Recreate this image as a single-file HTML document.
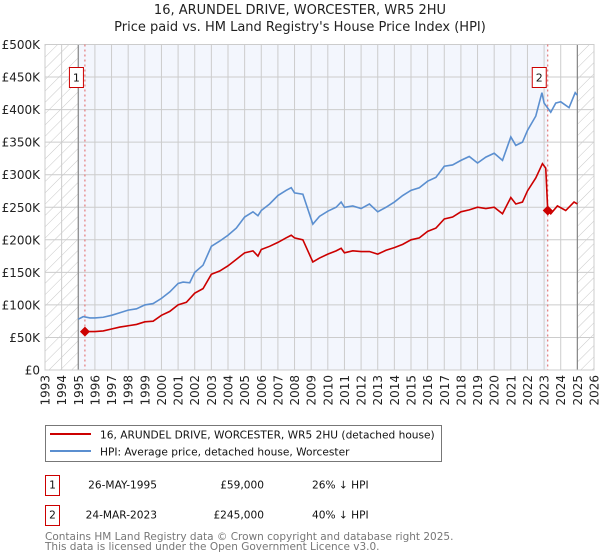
<!DOCTYPE html>
<html><head><meta charset="utf-8"><style>
body{margin:0;background:#fff;}
svg{display:block;font-family:"DejaVu Sans","Liberation Sans",sans-serif;}
</style></head><body>
<svg id="c" width="600" height="560" viewBox="0 0 600 560">
<defs>
<pattern id="hatch" width="8" height="8" patternUnits="userSpaceOnUse" patternTransform="rotate(45)">
<line x1="0" y1="0" x2="0" y2="8" stroke="#c8c8c8" stroke-width="1"/>
</pattern>
</defs>
<text x="300" y="14" text-anchor="middle" font-size="13" fill="#222">16, ARUNDEL DRIVE, WORCESTER, WR5 2HU</text>
<text x="300" y="31" text-anchor="middle" font-size="13" fill="#222">Price paid vs. HM Land Registry's House Price Index (HPI)</text>
<g id="plot"></g>
<g>
<rect x="45.5" y="425.5" width="396" height="36" fill="#fff" stroke="#777"/>
<line x1="50" y1="434" x2="91" y2="434" stroke="#cc0000" stroke-width="2"/>
<text x="100" y="438.5" font-size="10.6" fill="#111">16, ARUNDEL DRIVE, WORCESTER, WR5 2HU (detached house)</text>
<line x1="50" y1="451" x2="91" y2="451" stroke="#5b8fd0" stroke-width="2"/>
<text x="100" y="455.5" font-size="10.6" fill="#111">HPI: Average price, detached house, Worcester</text>
</g>
<g font-size="10.6" fill="#111">
<rect x="45.5" y="475.5" width="14" height="20" fill="#fff" stroke="#cc0000"/>
<text x="52.5" y="488.5" text-anchor="middle">1</text>
<text x="157" y="488.5" text-anchor="end">26-MAY-1995</text>
<text x="264" y="488.5" text-anchor="end">£59,000</text>
<text x="312" y="488.5">26% ↓ HPI</text>
<rect x="45.5" y="505.5" width="14" height="20" fill="#fff" stroke="#cc0000"/>
<text x="52.5" y="518.5" text-anchor="middle">2</text>
<text x="157" y="518.5" text-anchor="end">24-MAR-2023</text>
<text x="264" y="518.5" text-anchor="end">£245,000</text>
<text x="312" y="518.5">40% ↓ HPI</text>
</g>
<text x="45" y="540" font-size="10.5" fill="#777">Contains HM Land Registry data © Crown copyright and database right 2025.</text>
<text x="45" y="550" font-size="10.5" fill="#777">This data is licensed under the Open Government Licence v3.0.</text>
</svg>
<script>
const hpiYears=[1995.0,1995.3,1995.7,1996.0,1996.5,1997.0,1997.5,1998.0,1998.5,1999.0,1999.5,2000.0,2000.5,2001.0,2001.3,2001.7,2002.0,2002.5,2003.0,2003.5,2004.0,2004.5,2005.0,2005.5,2005.8,2006.0,2006.5,2007.0,2007.5,2007.8,2008.0,2008.5,2009.1,2009.5,2010.0,2010.5,2010.8,2011.0,2011.5,2012.0,2012.5,2013.0,2013.5,2014.0,2014.5,2015.0,2015.5,2016.0,2016.5,2017.0,2017.5,2018.0,2018.5,2019.0,2019.5,2020.0,2020.5,2021.0,2021.3,2021.7,2022.0,2022.5,2022.87,2023.0,2023.4,2023.7,2024.0,2024.5,2024.87,2025.0];
const hpiValues=[78,82,80,80,81,84,88,92,94,100,102,110,120,133,135,134,150,161,190,198,207,218,235,243,237,245,255,268,276,280,272,270,224,236,244,250,258,250,252,248,255,243,250,258,268,276,280,290,296,313,315,322,328,318,327,333,322,358,345,350,368,390,426,410,396,410,412,403,426,422];
const priceYears=[1995.4,1996.0,1996.5,1997.0,1997.5,1998.0,1998.5,1999.0,1999.5,2000.0,2000.5,2001.0,2001.5,2002.0,2002.5,2003.0,2003.5,2004.0,2004.5,2005.0,2005.5,2005.8,2006.0,2006.5,2007.0,2007.5,2007.8,2008.0,2008.5,2009.1,2009.5,2010.0,2010.5,2010.8,2011.0,2011.5,2012.0,2012.5,2013.0,2013.5,2014.0,2014.5,2015.0,2015.5,2016.0,2016.5,2017.0,2017.5,2018.0,2018.5,2019.0,2019.5,2020.0,2020.5,2021.0,2021.3,2021.7,2022.0,2022.5,2022.9,2023.1,2023.22,2023.4,2023.8,2024.3,2024.8,2025.0];
const priceValues=[59,59,60,63,66,68,70,74,75,84,90,100,104,118,125,147,152,160,170,180,183,175,185,190,196,203,207,203,200,166,172,178,183,187,180,183,182,182,178,184,188,193,200,203,213,218,232,235,243,246,250,248,250,240,265,255,258,275,295,317,310,245,240,252,245,258,255];
const saleYears=[1995.4,2023.22];
const saleValues=[59,245];
const saleLabels=["1","2"];
const yTicks=[0,50,100,150,200,250,300,350,400,450,500];
const yTickLabels=["£0","£50K","£100K","£150K","£200K","£250K","£300K","£350K","£400K","£450K","£500K"];
const xTicks=[1993,1994,1995,1996,1997,1998,1999,2000,2001,2002,2003,2004,2005,2006,2007,2008,2009,2010,2011,2012,2013,2014,2015,2016,2017,2018,2019,2020,2021,2022,2023,2024,2025,2026];

const X0=45,X1=594,Y0=370,Y1=44.5;
const xs=y=>X0+(y-1993)/(2026-1993)*(X1-X0);
const ys=v=>Y0-v/500*(Y0-Y1);
const NS="http://www.w3.org/2000/svg";
const g=document.getElementById('plot');
function mk(t,a){const e=document.createElementNS(NS,t);for(const k in a)e.setAttribute(k,a[k]);g.appendChild(e);return e;}
const bg=mk('rect',{x:xs(1995),y:Y1,width:xs(saleYears[1])-xs(1995),height:Y0-Y1,fill:'#f3f6fd'});


const h1=mk('rect',{x:X0,y:Y1,width:xs(1995)-X0,height:Y0-Y1,fill:'url(#hatch)'});


const h2=mk('rect',{x:xs(2025),y:Y1,width:X1-xs(2025),height:Y0-Y1,fill:'url(#hatch)'});


xTicks.forEach(t=>{
  const l=mk('line',{x1:xs(t),x2:xs(t),y1:Y1,y2:Y0,stroke:'#cccccc','stroke-width':1});
  
  
  const tx=mk('text',{x:0,y:0,'font-size':12,fill:'#222','text-anchor':'end',transform:`translate(${xs(t)+4.5},${Y0+5}) rotate(-90)`});
  tx.textContent=t;
  
  
});
yTicks.forEach((t,i)=>{
  const l=mk('line',{x1:X0,x2:X1,y1:ys(t),y2:ys(t),stroke:'#cccccc','stroke-width':1});
  
  
  const tx=mk('text',{x:40,y:ys(t)+4.5,'font-size':12,fill:'#222','text-anchor':'end'});
  tx.textContent=yTickLabels[i];
  
  
});
[1995,2025].forEach(t=>{
  const l=mk('line',{x1:xs(t),x2:xs(t),y1:Y1,y2:Y0,stroke:'#888','stroke-width':1.2});
  
  
});
const frame=mk('rect',{x:X0,y:Y1,width:X1-X0,height:Y0-Y1,fill:'none',stroke:'#cccccc'});


saleYears.forEach((t,i)=>{
  const l=mk('line',{x1:xs(t),x2:xs(t),y1:Y1,y2:Y0,stroke:'#e06060','stroke-width':1,'stroke-dasharray':'2,3'});
  
  
});
const hp=mk('polyline',{points:hpiYears.map((y,i)=>xs(y)+','+ys(hpiValues[i])).join(' '),fill:'none',stroke:'#5b8fd0','stroke-width':1.6});


const pp=mk('polyline',{points:priceYears.map((y,i)=>xs(y)+','+ys(priceValues[i])).join(' '),fill:'none',stroke:'#cc0000','stroke-width':1.6});


saleYears.forEach((t,i)=>{
  const cx=xs(t),cy=ys(saleValues[i]);
  const d=mk('polygon',{points:`${cx},${cy-5} ${cx+5},${cy} ${cx},${cy+5} ${cx-5},${cy}`,fill:'#cc0000'});
  
  
  const b=mk('rect',{x:cx-15.5,y:67.5,width:14,height:20,fill:'#fff',stroke:'#cc0000'});
  
  
  const tx=mk('text',{x:cx-8.5,y:81.5,'font-size':11,fill:'#111','text-anchor':'middle'});
  tx.textContent=saleLabels[i];
  
  
});
</script>
</body></html>
